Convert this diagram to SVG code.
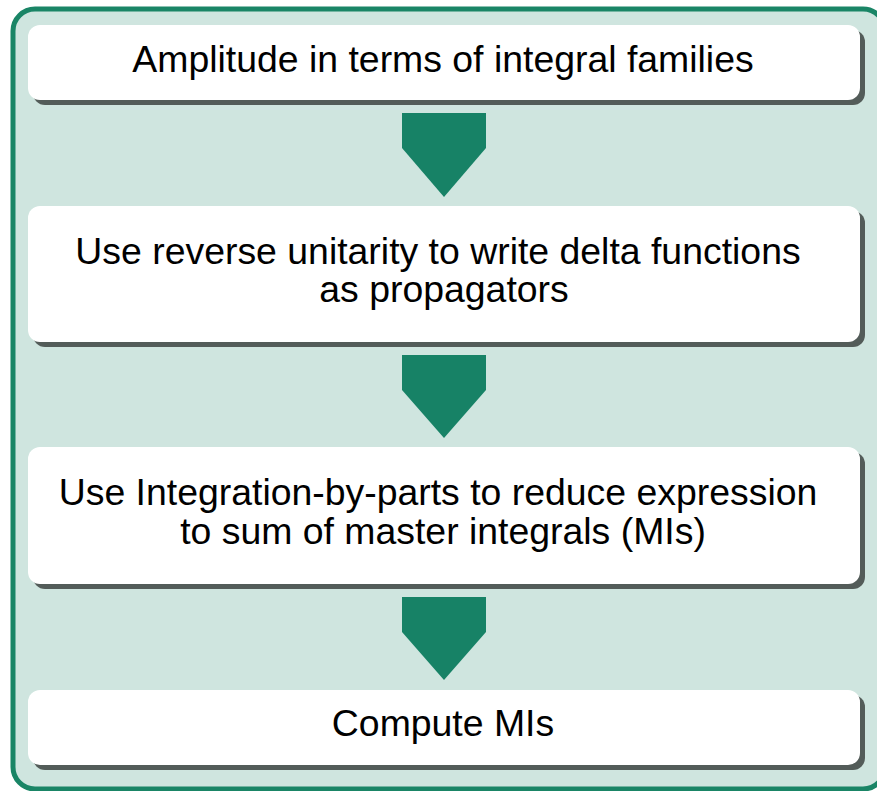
<svg xmlns="http://www.w3.org/2000/svg" width="877" height="791" viewBox="0 0 877 791">
<style>
.frame{fill:#cfe5df;stroke:#1a8566;stroke-width:5}
.shadow{fill:#535c59}
.box{fill:#ffffff}
.arrow{fill:#178266}
.t{font-family:"Liberation Sans",Arial,sans-serif;font-size:37.4px;fill:#000000;text-anchor:middle}
</style>
<rect class="frame" x="13" y="9" width="872" height="780" rx="22"/>
<g id="n1">
<rect class="shadow" x="33" y="30" width="832" height="75" rx="12"/>
<rect class="box" x="28" y="25" width="832" height="75" rx="12"/>
<text class="t" x="443" y="72">Amplitude in terms of integral families</text>
</g>
<g id="n2">
<rect class="shadow" x="33" y="211" width="832" height="136" rx="12"/>
<rect class="box" x="28" y="206" width="832" height="136" rx="12"/>
<text class="t" x="438" y="264">Use reverse unitarity to write delta functions</text>
<text class="t" x="444" y="302">as propagators</text>
</g>
<g id="n3">
<rect class="shadow" x="33" y="452" width="832" height="137" rx="12"/>
<rect class="box" x="28" y="447" width="832" height="137" rx="12"/>
<text class="t" x="438" y="505">Use Integration-by-parts to reduce expression</text>
<text class="t" x="443" y="544">to sum of master integrals (MIs)</text>
</g>
<g id="n4">
<rect class="shadow" x="33" y="695" width="832" height="75" rx="12"/>
<rect class="box" x="28" y="690" width="832" height="75" rx="12"/>
<text class="t" x="443" y="736">Compute MIs</text>
</g>
<g id="connectors">
<polygon class="arrow" points="402,113 486,113 486,148 444,197 402,148"/>
<polygon class="arrow" points="402,355 486,355 486,390 444,438 402,390"/>
<polygon class="arrow" points="402,597 486,597 486,632 444,680 402,632"/>
</g>
</svg>
